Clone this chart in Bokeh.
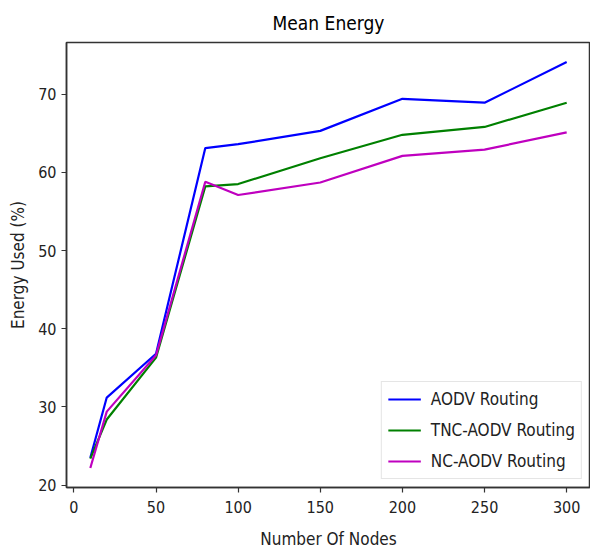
from bokeh.plotting import figure
from bokeh.models import Range1d, FixedTicker, Legend, LegendItem
from bokeh.embed import file_html
from bokeh.resources import INLINE

nodes = [10, 20, 50, 80, 100, 150, 200, 250, 300]
aodv = [23.5, 31.2, 36.8, 63.1, 63.6, 65.3, 69.4, 68.9, 74.1]
tnc_aodv = [23.4, 28.4, 36.3, 58.2, 58.5, 61.8, 64.8, 65.8, 68.9]
nc_aodv = [22.2, 29.4, 36.6, 58.8, 57.1, 58.7, 62.1, 62.9, 65.1]
x_ticks = [0, 50, 100, 150, 200, 250, 300]
y_ticks = [20, 30, 40, 50, 60, 70]
series_names = ["AODV Routing", "TNC-AODV Routing", "NC-AODV Routing"]
colors = ["#0000ff", "#008000", "#bf00bf"]

FONT = "DejaVu Sans Condensed, DejaVu Sans"

p = figure(width=590, height=553, output_backend="svg", toolbar_location=None,
           x_range=Range1d(-4.5, 314.5), y_range=Range1d(19.7, 76.6),
           min_border_left=66, min_border_right=0, min_border_top=42, min_border_bottom=66,
           title="Mean Energy")
p.title.align = "center"
p.title.text_font = FONT
p.title.text_font_size = "19px"
p.title.text_font_style = "normal"
p.title.text_color = "black"
p.title.standoff = 18

p.xgrid.visible = False
p.ygrid.visible = False
p.outline_line_color = "#333333"
p.outline_line_width = 1.5

for ax in (p.xaxis[0], p.yaxis[0]):
    ax.major_label_text_font = FONT
    ax.major_label_text_font_size = "16px"
    ax.major_label_text_color = "#222222"
    ax.axis_label_text_font = FONT
    ax.axis_label_text_font_size = "17px"
    ax.axis_label_text_font_style = "normal"
    ax.axis_label_text_color = "#222222"
    ax.minor_tick_line_color = None
    ax.major_tick_in = 0
    ax.major_tick_out = 5
    ax.axis_line_color = "#333333"
    ax.axis_line_width = 1.5
    ax.major_tick_line_color = "#333333"
    ax.major_tick_line_width = 1.2

p.xaxis.ticker = FixedTicker(ticks=x_ticks)
p.yaxis.ticker = FixedTicker(ticks=y_ticks)
p.xaxis.axis_label = "Number Of Nodes"
p.yaxis.axis_label = "Energy Used (%)"
p.xaxis.major_label_standoff = 8
p.yaxis.major_label_standoff = 5
p.xaxis.axis_label_standoff = 13
p.yaxis.axis_label_standoff = 7

renderers = []
for vals, c in zip([aodv, tnc_aodv, nc_aodv], colors):
    r = p.line(nodes, vals, line_color=c, line_width=2.2)
    renderers.append(r)

legend = Legend(items=[LegendItem(label=n, renderers=[r]) for n, r in zip(series_names, renderers)],
                location="bottom_right")
legend.label_text_font = FONT
legend.label_text_font_size = "17px"
legend.label_text_color = "#222222"
legend.glyph_width = 33
legend.label_height = 22
legend.glyph_height = 22
legend.label_standoff = 10
legend.spacing = 9
legend.padding = 6
legend.margin = 8
legend.border_line_color = "#cccccc"
legend.border_line_width = 1
p.add_layout(legend)

open("out.html", "w").write(file_html(p, INLINE))
